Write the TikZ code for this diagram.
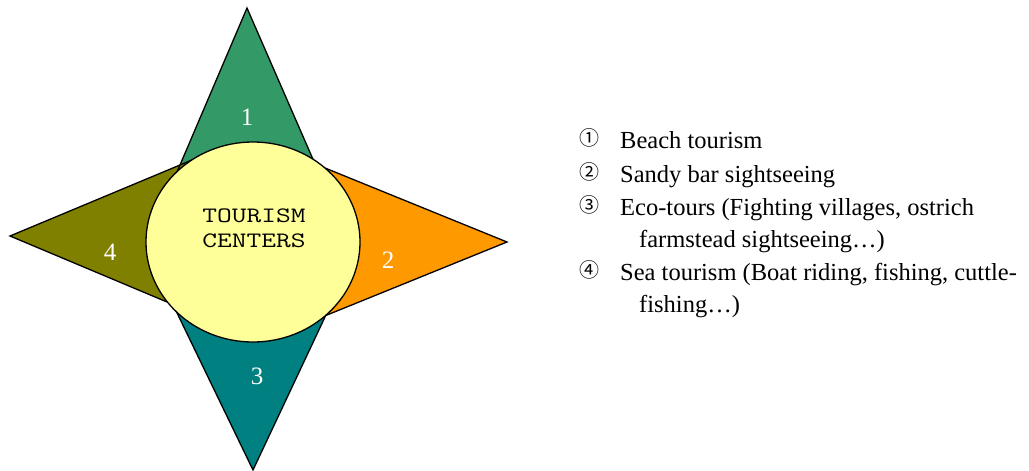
\documentclass[tikz,border=0pt]{standalone}
\usepackage{fontspec}
\setmainfont{Liberation Serif}
\newfontfamily\hubfont[FakeStretch=1.3]{Latin Modern Mono}
\newfontfamily\circfont{Noto Sans CJK SC}
\usetikzlibrary{calc}
\definecolor{ptgreen}{HTML}{339966}
\definecolor{ptorange}{HTML}{FF9900}
\definecolor{ptteal}{HTML}{008080}
\definecolor{ptolive}{HTML}{808000}
\definecolor{ptyellow}{HTML}{FFFF99}
\tikzset{
  spike/.style={draw=black, line width=1.3pt, line join=miter},
  hub/.style={draw=black, line width=1.3pt, fill=ptyellow},
  spikenum/.style={text=white, font=\fontsize{25}{25}\selectfont, inner sep=0pt},
  hubtext/.style={font=\hubfont\fontsize{22}{25}\selectfont, align=center, inner sep=0pt},
  itemnum/.style={font=\circfont\fontsize{20}{20}\selectfont, inner sep=0pt},
  itemtext/.style={font=\fontsize{24.5}{24.5}\selectfont, anchor=base west, inner sep=0pt},
}
\begin{document}
\begin{tikzpicture}[x=1pt,y=-1pt]
\useasboundingbox (0,0) rectangle (1029,471);
% centre of the hub
\coordinate (C) at (253,242);
% spike tips and the points where their edges meet the hub
\coordinate (A1) at (247,8);   \coordinate (P1a) at (180,165); \coordinate (P1b) at (312,157);
\coordinate (A2) at (507,242); \coordinate (P2a) at (325,168); \coordinate (P2b) at (327,315);
\coordinate (A3) at (253,470); \coordinate (P3a) at (178,315); \coordinate (P3b) at (325,317);
\coordinate (A4) at (10,236);  \coordinate (P4a) at (180,165); \coordinate (P4b) at (167,302);
% spikes (run a little into the hub, then close at its centre)
\fill[ptgreen]  (A1) -- ($(A1)!1.1!(P1a)$) -- (C) -- ($(A1)!1.1!(P1b)$) -- cycle;
\fill[ptorange] (A2) -- ($(A2)!1.1!(P2a)$) -- (C) -- ($(A2)!1.1!(P2b)$) -- cycle;
\fill[ptteal]   (A3) -- ($(A3)!1.1!(P3a)$) -- (C) -- ($(A3)!1.1!(P3b)$) -- cycle;
\fill[ptolive]  (A4) -- ($(A4)!1.1!(P4a)$) -- (C) -- ($(A4)!1.1!(P4b)$) -- cycle;
\draw[spike] ($(A1)!1.1!(P1a)$) -- (A1) -- ($(A1)!1.1!(P1b)$);
\draw[spike] ($(A2)!1.1!(P2a)$) -- (A2) -- ($(A2)!1.1!(P2b)$);
\draw[spike] ($(A3)!1.1!(P3a)$) -- (A3) -- ($(A3)!1.1!(P3b)$);
\draw[spike] ($(A4)!1.1!(P4a)$) -- (A4) -- ($(A4)!1.1!(P4b)$);
% hub
\draw[hub] (C) ellipse [x radius=107, y radius=100];
\node[hubtext] (hubtxt) at (254,228) {TOURISM\\CENTERS};
% spike numbers
\node[spikenum] (n1) at (247,117) {1};
\node[spikenum] (n2) at (388,260) {2};
\node[spikenum] (n3) at (257,376) {3};
\node[spikenum] (n4) at (110,252) {4};
% legend
\node[itemnum] (c1) at (589.5,138) {①};
\node[itemnum] (c2) at (589.5,172) {②};
\node[itemnum] (c3) at (589.5,205) {③};
\node[itemnum] (c4) at (589.5,270) {④};
\node[itemtext] (t1) at (620,148) {Beach tourism};
\node[itemtext] (t2) at (620,182) {Sandy bar sightseeing};
\node[itemtext] (t3) at (620,215) {Eco-tours (Fighting villages, ostrich};
\node[itemtext] (t3b) at (639,247) {farmstead sightseeing\ldots)};
\node[itemtext] (t4) at (620,280) {Sea tourism (Boat riding, fishing, cuttle-};
\node[itemtext] (t4b) at (639,312) {fishing\ldots)};
\end{tikzpicture}
\end{document}
